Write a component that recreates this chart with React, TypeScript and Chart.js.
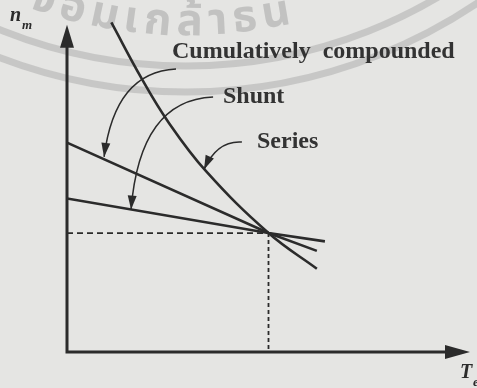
import React, { useEffect, useRef } from "react";
import { Chart, registerables } from "chart.js";

Chart.register(...registerables);

// Speed–torque characteristics of dc motors, per unit (rated point at 1, 1)
const seriesTorque = [0.22, 0.37, 0.5, 0.69, 1.0, 1.24];
const seriesSpeed = [2.77, 2.3, 1.94, 1.52, 1.0, 0.7];
const compoundTorque = [0, 1.0, 1.24];
const compoundSpeed = [1.76, 1.0, 0.85];
const shuntTorque = [0, 1.0, 1.28];
const shuntSpeed = [1.29, 1.0, 0.93];
const ratedTorque = 1.0;
const ratedSpeed = 1.0;

const curveLabels = ["Cumulatively  compounded", "Shunt", "Series"];
const stampClusters = ["จ", "อ", "ม", "เ", "ก", "ล้", "า", "ธ", "น"];

// Label anchors (left, baseline) and pointer arrows, in torque/speed units
const labelAnchors: [number, number][] = [
  [0.521, 2.471],
  [0.774, 2.093],
  [0.943, 1.715],
];
type Pointer = { from: [number, number]; ctrl: [number, number]; to: [number, number] };
const pointers: Pointer[] = [
  { from: [0.541, 2.379], ctrl: [0.238, 2.354], to: [0.184, 1.64] },
  { from: [0.725, 2.143], ctrl: [0.362, 2.118], to: [0.318, 1.198] },
  { from: [0.868, 1.765], ctrl: [0.745, 1.78], to: [0.68, 1.535] },
];
const axisTips = { torque: 2.0, speed: 2.75 };

const INK = "#2b2b2b";
const TEXT = "#333333";
const PAPER = "#e5e5e3";
const SERIF = '"Liberation Serif", "Times New Roman", serif';

const zip = (xs: number[], ys: number[]) => xs.map((x, i) => ({ x, y: ys[i] }));

function filledHead(
  ctx: CanvasRenderingContext2D,
  tipX: number,
  tipY: number,
  dirX: number,
  dirY: number,
  len: number,
  half: number
) {
  const n = Math.hypot(dirX, dirY) || 1;
  const ux = dirX / n;
  const uy = dirY / n;
  const bx = tipX - ux * len;
  const by = tipY - uy * len;
  ctx.beginPath();
  ctx.moveTo(tipX, tipY);
  ctx.lineTo(bx - uy * half, by + ux * half);
  ctx.lineTo(bx + uy * half, by - ux * half);
  ctx.closePath();
  ctx.fill();
}

const paperPlugin = {
  id: "paper",
  beforeDraw(chart: any) {
    const { ctx, width, height } = chart;
    ctx.save();
    ctx.fillStyle = PAPER;
    ctx.fillRect(0, 0, width, height);

    // faded library stamp in the background
    const cx = 186;
    const cy = -429;
    ctx.strokeStyle = "rgba(170,170,170,0.5)";
    ctx.lineWidth = 7;
    [495, 521].forEach((r) => {
      ctx.beginPath();
      ctx.arc(cx, cy, r, 0, Math.PI);
      ctx.stroke();
    });
    const R = 464;
    ctx.fillStyle = "rgba(165,165,165,0.55)";
    ctx.font = 'bold 44px "Noto Sans Thai", "Noto Sans", sans-serif';
    ctx.textBaseline = "alphabetic";
    let a = Math.asin((28 - cx) / R);
    stampClusters.forEach((g) => {
      const w = ctx.measureText(g).width;
      const px = cx + R * Math.sin(a);
      const py = cy + R * Math.cos(a);
      ctx.save();
      ctx.translate(px, py);
      ctx.rotate(-a);
      ctx.fillText(g, 0, 0);
      ctx.restore();
      a += (w + 6) / R;
    });
    ctx.restore();
  },
  afterDatasetsDraw(chart: any) {
    const { ctx } = chart;
    const xs = chart.scales.x;
    const ys = chart.scales.y;
    const X = (v: number) => xs.getPixelForValue(v);
    const Y = (v: number) => ys.getPixelForValue(v);
    ctx.save();

    // axes with arrow heads
    const ox = X(0);
    const oy = Y(0);
    const yTip = Y(axisTips.speed);
    const xTip = X(axisTips.torque);
    ctx.strokeStyle = INK;
    ctx.fillStyle = INK;
    ctx.lineWidth = 3;
    ctx.lineCap = "butt";
    ctx.beginPath();
    ctx.moveTo(ox, yTip + 16);
    ctx.lineTo(ox, oy);
    ctx.lineTo(xTip - 16, oy);
    ctx.stroke();
    filledHead(ctx, ox, yTip, 0, -1, 23, 7);
    filledHead(ctx, xTip, oy, 1, 0, 25, 7);

    // curved pointers from the labels
    ctx.lineWidth = 1.5;
    pointers.forEach((p) => {
      const x0 = X(p.from[0]);
      const y0 = Y(p.from[1]);
      const xc = X(p.ctrl[0]);
      const yc = Y(p.ctrl[1]);
      const x1 = X(p.to[0]);
      const y1 = Y(p.to[1]);
      ctx.beginPath();
      ctx.moveTo(x0, y0);
      ctx.quadraticCurveTo(xc, yc, x1, y1);
      ctx.stroke();
      filledHead(ctx, x1, y1, x1 - xc, y1 - yc, 14, 4.5);
    });

    // curve names
    ctx.fillStyle = TEXT;
    ctx.font = `bold 24px ${SERIF}`;
    ctx.textBaseline = "alphabetic";
    ctx.textAlign = "left";
    curveLabels.forEach((t, i) => {
      ctx.fillText(t, X(labelAnchors[i][0]), Y(labelAnchors[i][1]));
    });

    // axis names
    ctx.fillStyle = INK;
    ctx.font = `italic bold 20px ${SERIF}`;
    ctx.fillText("n", 10, 21);
    ctx.font = `italic bold 13px ${SERIF}`;
    ctx.fillText("m", 22, 29);
    ctx.font = `italic bold 20px ${SERIF}`;
    ctx.fillText("T", 460, 378);
    ctx.font = `italic bold 13px ${SERIF}`;
    ctx.fillText("e", 473, 386);
    ctx.restore();
  },
};

export default function App() {
  const canvasRef = useRef<HTMLCanvasElement | null>(null);

  useEffect(() => {
    document.body.style.margin = "0";
    const canvas = canvasRef.current;
    if (!canvas) return;
    const solid = {
      showLine: true,
      borderColor: INK,
      borderWidth: 2.6,
      pointRadius: 0,
      fill: false,
      tension: 0,
    };
    const chart = new Chart(canvas, {
      type: "scatter",
      data: {
        datasets: [
          {
            ...solid,
            label: "Series",
            data: zip(seriesTorque, seriesSpeed),
            tension: 0.4,
          },
          { ...solid, label: "Cumulatively compounded", data: zip(compoundTorque, compoundSpeed) },
          { ...solid, label: "Shunt", data: zip(shuntTorque, shuntSpeed) },
          {
            ...solid,
            label: "rated speed",
            data: [
              { x: 0, y: ratedSpeed },
              { x: ratedTorque, y: ratedSpeed },
            ],
            borderWidth: 1.8,
            borderDash: [6, 4],
          },
          {
            ...solid,
            label: "rated torque",
            data: [
              { x: ratedTorque, y: ratedSpeed },
              { x: ratedTorque, y: 0 },
            ],
            borderWidth: 1.8,
            borderDash: [4, 3],
          },
        ],
      },
      options: {
        responsive: false,
        animation: false,
        devicePixelRatio: 1,
        layout: { padding: { left: 67, right: 7, top: 7, bottom: 36 } },
        plugins: { legend: { display: false }, tooltip: { enabled: false } },
        scales: {
          x: { type: "linear", min: 0, max: 2.0, display: false },
          y: { type: "linear", min: 0, max: 2.9, display: false },
        },
      },
      plugins: [paperPlugin],
    } as any);
    return () => chart.destroy();
  }, []);

  return (
    <div style={{ position: "absolute", left: 0, top: 0, width: 477, height: 388 }}>
      <canvas ref={canvasRef} width={477} height={388} />
    </div>
  );
}
